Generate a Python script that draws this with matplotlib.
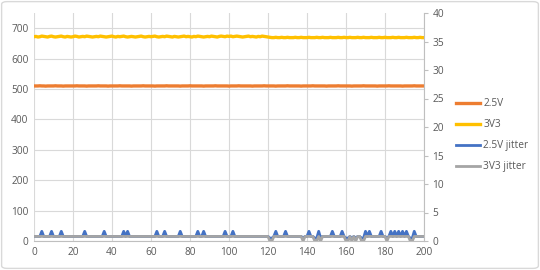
import numpy as np
import matplotlib
matplotlib.use("Agg")
import matplotlib.pyplot as plt
from matplotlib.patches import FancyBboxPatch

x = list(range(0, 201))

v25 = [
 510,510,510,510.5,510,510,509.5,510,510,510,510,510.5,510,510,510,509.5,510,510,510,510,
 510,510,510.5,510,510,510,510,509.5,510,510,510,510,510,510.5,510,510,510,510,509.5,510,
 510,510,510,510,510.5,510,510,510,510,510,509.5,510,510,510,510,510,510.5,510,510,510,
 510,510,509.5,510,510,510,510,510,510.5,510,510,510,510,510,510,509.5,510,510,510,510,
 510.5,510,510,510,510,510,510,509.5,510,510,510,510,510,510.5,510,510,510,510,510,510,
 509.5,510,510,510,510,510.5,510,510,510,510,510,510,509.5,510,510,510,510,510,510.5,510,
 510,510,510,510,509.5,510,510,510,510,510,510.5,510,510,510,510,510,510,509.5,510,510,
 510,510,510,510.5,510,510,510,510,510,510,509.5,510,510,510,510,510,510.5,510,510,510,
 510,510,510,509.5,510,510,510,510,510,510.5,510,510,510,510,510,510,509.5,510,510,510,
 510,510,510.5,510,510,510,510,510,510,509.5,510,510,510,510,510,510.5,510,510,510,510,
 510]

v33 = [
 672,673,671,672,674,673,672,671,673,674,672,671,672,673,674,672,671,673,672,671,
 672,674,673,671,672,673,672,674,673,672,671,672,673,672,674,673,672,671,672,673,
 674,672,671,673,672,673,674,672,671,672,673,672,671,672,673,674,672,671,672,673,
 672,673,674,672,671,672,673,672,674,673,672,671,673,672,671,672,673,674,672,673,
 672,671,673,672,674,673,672,671,672,673,672,674,673,672,671,673,674,673,672,674,
 673,674,672,673,674,673,672,671,672,673,674,672,673,672,671,673,672,674,673,672,
 671,670,669,669,670,669,669,670,669,669,670,669,669,669,670,669,669,670,669,669,
 669,670,669,669,669,670,669,669,670,669,669,669,670,669,669,669,670,669,669,670,
 669,669,670,669,669,669,670,669,669,670,669,669,669,670,669,669,669,670,669,669,
 670,669,669,669,670,669,669,670,669,669,669,670,669,669,669,670,669,669,670,669,
 669]

j25 = [
 0.8,0.8,0.8,0.8,1.7,0.8,0.8,0.8,0.8,1.7,0.8,0.8,0.8,0.8,1.7,0.8,0.8,0.8,0.8,0.8,
 0.8,0.8,0.8,0.8,0.8,0.8,1.7,0.8,0.8,0.8,0.8,0.8,0.8,0.8,0.8,0.8,1.7,0.8,0.8,0.8,
 0.8,0.8,0.8,0.8,0.8,0.8,1.7,0.8,1.7,0.8,0.8,0.8,0.8,0.8,0.8,0.8,0.8,0.8,0.8,0.8,
 0.8,0.8,0.8,1.7,0.8,0.8,0.8,1.7,0.8,0.8,0.8,0.8,0.8,0.8,0.8,1.7,0.8,0.8,0.8,0.8,
 0.8,0.8,0.8,0.8,1.7,0.8,0.8,1.7,0.8,0.8,0.8,0.8,0.8,0.8,0.8,0.8,0.8,0.8,1.7,0.8,
 0.8,0.8,1.7,0.8,0.8,0.8,0.8,0.8,0.8,0.8,0.8,0.8,0.8,0.8,0.8,0.8,0.8,0.8,0.8,0.8,
 0.8,0.5,0.5,0.8,1.7,0.8,0.8,0.8,0.8,1.7,0.8,0.8,0.8,0.8,0.8,0.8,0.8,0.8,0.5,0.8,
 0.8,1.7,0.8,0.8,0.5,0.5,1.7,0.5,0.8,0.8,0.8,0.8,0.8,1.7,0.8,0.8,0.8,0.8,1.7,0.8,
 0.5,0.5,0.8,0.5,0.8,0.5,0.8,0.8,0.5,0.5,1.7,0.8,1.7,0.8,0.8,0.8,0.8,0.8,1.7,0.8,
 0.8,0.5,0.8,1.7,0.8,1.7,0.8,1.7,0.8,1.7,0.8,1.7,0.8,0.5,0.5,1.7,0.8,0.8,0.8,0.8,
 0.8]

j33 = [
 0.8,0.8,0.8,0.8,0.8,0.8,0.8,0.8,0.8,0.8,0.8,0.8,0.8,0.8,0.8,0.8,0.8,0.8,0.8,0.8,
 0.8,0.8,0.8,0.8,0.8,0.8,0.8,0.8,0.8,0.8,0.8,0.8,0.8,0.8,0.8,0.8,0.8,0.8,0.8,0.8,
 0.8,0.8,0.8,0.8,0.8,0.8,0.8,0.8,0.8,0.8,0.8,0.8,0.8,0.8,0.8,0.8,0.8,0.8,0.8,0.8,
 0.8,0.8,0.8,0.8,0.8,0.8,0.8,0.8,0.8,0.8,0.8,0.8,0.8,0.8,0.8,0.8,0.8,0.8,0.8,0.8,
 0.8,0.8,0.8,0.8,0.8,0.8,0.8,0.8,0.8,0.8,0.8,0.8,0.8,0.8,0.8,0.8,0.8,0.8,0.8,0.8,
 0.8,0.8,0.8,0.8,0.8,0.8,0.8,0.8,0.8,0.8,0.8,0.8,0.8,0.8,0.8,0.8,0.8,0.8,0.8,0.8,
 0.8,0.0,0.0,0.8,0.8,0.8,0.8,0.8,0.8,0.8,0.8,0.8,0.8,0.8,0.8,0.8,0.8,0.8,0.0,0.8,
 0.8,0.8,0.8,0.8,0.0,0.0,0.8,0.0,0.8,0.8,0.8,0.8,0.8,0.8,0.8,0.8,0.8,0.8,0.8,0.8,
 0.0,0.0,0.8,0.0,0.8,0.0,0.8,0.8,0.0,0.0,0.8,0.8,0.8,0.8,0.8,0.8,0.8,0.8,0.8,0.8,
 0.8,0.0,0.8,0.8,0.8,0.8,0.8,0.8,0.8,0.8,0.8,0.8,0.8,0.0,0.0,0.8,0.8,0.8,0.8,0.8,
 0.8]

labels = ["2.5V", "3V3", "2.5V jitter", "3V3 jitter"]
colors = ["#ED7D31", "#FFC000", "#4472C4", "#A5A5A5"]

plt.rcParams['font.family'] = ['Open Sans', 'DejaVu Sans']
fig = plt.figure(figsize=(5.4, 2.7), dpi=100)
ax = fig.add_axes([34/540, 1-241/270, 390/540, 228/270])
ax2 = ax.twinx()

l1, = ax.plot(x, v25, color=colors[0], lw=2.4, label=labels[0])
l2, = ax.plot(x, v33, color=colors[1], lw=2.4, label=labels[1])
l3, = ax2.plot(x, j25, color=colors[2], lw=2.0, label=labels[2])
l4, = ax2.plot(x, j33, color=colors[3], lw=2.0, label=labels[3])

ax.set_xlim(0, 200)
ax.set_ylim(0, 750)
ax2.set_ylim(0, 40)
ax.set_xticks(range(0, 201, 20))
ax.set_yticks(range(0, 701, 100))
ax2.set_yticks(range(0, 41, 5))
ax.grid(True, color="#D9D9D9", lw=0.8)
ax.set_axisbelow(True)

for a in (ax, ax2):
    for s in a.spines.values():
        s.set_visible(False)
ax2.spines['right'].set_visible(True)
ax2.spines['right'].set_color("#BFBFBF")
ax.spines['bottom'].set_visible(True)
ax.spines['bottom'].set_color("#BFBFBF")

ax.tick_params(axis='both', length=0, labelsize=7.3, labelcolor="#595959", pad=4)
ax2.tick_params(axis='y', length=3, color="#BFBFBF", labelsize=7.3, labelcolor="#595959", pad=3)

fig.legend(handles=[l1, l2, l3, l4], labels=labels, loc='upper left',
           bbox_to_anchor=(452/540, 1-94/270), frameon=False, fontsize=7.3,
           labelcolor="#595959", handlelength=2.4, handletextpad=0.3,
           labelspacing=1.0, borderaxespad=0)

border = FancyBboxPatch((0.003, 0.006), 0.994, 0.988, boxstyle="round,pad=0,rounding_size=0.01",
                        transform=fig.transFigure, fill=False, ec="#D9D9D9", lw=1)
fig.patches.append(border)

fig.savefig("out.png", dpi=100)
